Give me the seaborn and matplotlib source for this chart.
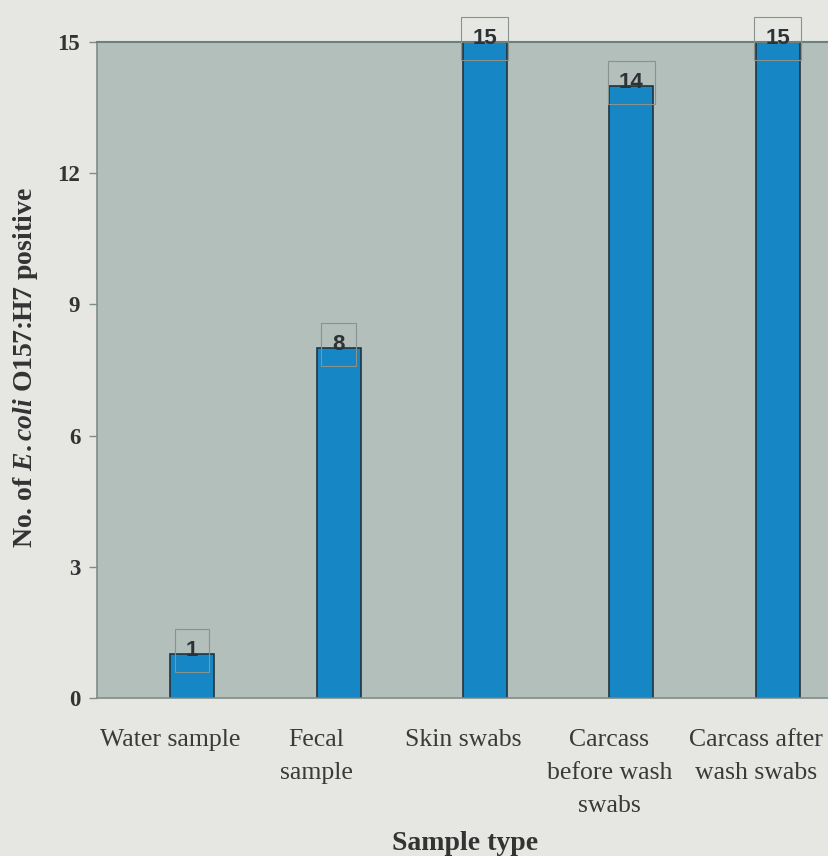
import matplotlib
matplotlib.use("Agg")
import matplotlib.pyplot as plt
import pandas as pd
import seaborn as sns

# sample types and E. coli O157:H7 positive counts
sample_types = ["Water sample", "Fecal\nsample", "Skin swabs",
                "Carcass\nbefore wash\nswabs", "Carcass after\nwash swabs"]
positives = [1, 8, 15, 14, 15]
y_ticks = [0, 3, 6, 9, 12, 15]

# original chart was a clustered layout: an empty slot sits left of each bar
df = pd.DataFrame({"sample": sample_types, "count": positives,
                   "series": "positive"})
series_order = ["blank", "positive"]

sns.set_theme(style="white")
plt.rcParams["font.family"] = ["Liberation Serif", "DejaVu Serif"]
plt.rcParams["mathtext.fontset"] = "custom"
plt.rcParams["mathtext.it"] = "Liberation Serif:italic:bold"
plt.rcParams["mathtext.rm"] = "Liberation Serif:bold"

fig = plt.figure(figsize=(8.29, 8.56), dpi=100, facecolor="#e6e7e3")
ax = fig.add_axes([0.117, 0.1846, 0.883, 0.7663])
ax.set_facecolor("#b3bfbb")

sns.barplot(data=df, x="sample", y="count", hue="series",
            hue_order=series_order, order=sample_types, ax=ax,
            palette={"blank": "#1786c4", "positive": "#1786c4"},
            saturation=1, width=0.6, gap=0, dodge=True,
            edgecolor="#24343c", linewidth=1.2, legend=False)

ax.set_xlim(-0.5, 4.5)
ax.set_ylim(0, 15)
ax.set_yticks(y_ticks)
ax.set_yticklabels([str(t) for t in y_ticks], fontweight="bold", fontsize=16.5,
                   color="#333333")

ax.set_xticks(range(len(sample_types)))
ax.set_xticklabels(sample_types, fontsize=18.5, color="#3a3a3a",
                   linespacing=1.65, va="top")
ax.set_xticks([i - 0.5 for i in range(len(sample_types) + 1)], minor=True)
ax.tick_params(axis="x", which="major", length=0, pad=22)
ax.tick_params(axis="x", which="minor", length=8, color="#7d8d88", width=1)
ax.tick_params(axis="y", length=6, color="#7d8d88", width=1, pad=6, left=True)

for side in ["left", "bottom"]:
    ax.spines[side].set_color("#7d8d88")
    ax.spines[side].set_linewidth(1.2)
ax.spines["top"].set_color("#6c817b")
ax.spines["top"].set_linewidth(1.5)
ax.spines["right"].set_visible(False)

# value labels in thin boxes at the bar tops
bars = sorted([p for c in ax.containers for p in c if p.get_height() > 0],
              key=lambda p: p.get_x())
for bar, val in zip(bars, positives):
    cx = bar.get_x() + bar.get_width() / 2
    ax.text(cx, bar.get_height() + 0.08, str(val), ha="center", va="center",
            fontsize=16, fontweight="bold", color="#2c3236",
            family="Liberation Sans", clip_on=False,
            bbox=dict(boxstyle="square,pad=0.5", facecolor="none",
                      edgecolor="#8a9290", linewidth=0.8))

ax.set_xlabel("Sample type", fontsize=20, fontweight="bold", color="#333333")
ax.xaxis.label.set_va("center")
ax.xaxis.set_label_coords(0.503, -0.222)
ax.set_ylabel(r"No. of $\mathit{E{.}coli}$ O157:H7 positive", fontsize=20,
              fontweight="bold", color="#333333")
ax.yaxis.label.set_va("center")
ax.yaxis.set_label_coords(-0.098, 0.503)

fig.savefig("out.png", dpi=100, facecolor=fig.get_facecolor())
